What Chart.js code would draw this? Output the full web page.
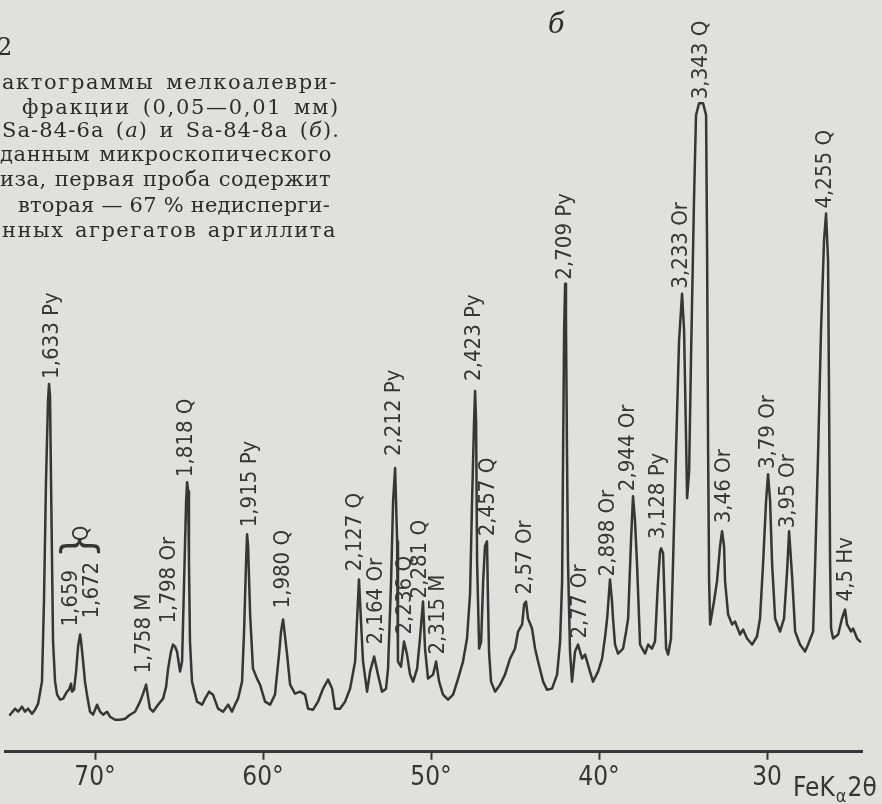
<!DOCTYPE html>
<html lang="ru">
<head>
<meta charset="utf-8">
<title>Дифрактограммы мелкоалевритовой фракции</title>
<script src="https://cdn.jsdelivr.net/npm/chart.js@4.4.1/dist/chart.umd.min.js"></script>
<style>
  html, body { margin: 0; padding: 0; background: #e0e0dd; }
  #wrap { position: relative; width: 882px; height: 804px; overflow: hidden; }
  #box { position: absolute; left: 0; top: 0; width: 882px; height: 804px; }
  .cap {
    position: absolute; height: 24px; line-height: 24px;
    font-family: "DejaVu Serif", "Liberation Serif", serif; font-size: 21px;
    color: #2c2c2c; white-space: nowrap;
    text-align: justify; text-align-last: justify;
  }
  .tag { position: absolute; font-family: "DejaVu Serif", serif; font-style: italic; font-size: 27px; color: #2c2c2c; }
</style>
</head>
<body>
<div id="wrap">
  <div id="box"><canvas id="chart"></canvas></div>

  <div class="cap" style="left:-3px; top:35px; width:16px; font-size:24px;">2</div>
  <div class="cap" style="left:2px; top:70px; width:336px; letter-spacing:1.6px;">актограммы мелкоалеври-</div>
  <div class="cap" style="left:22px; top:95px; width:318px; letter-spacing:1.7px;">фракции (0,05—0,01 мм)</div>
  <div class="cap" style="left:2px; top:118px; width:338px; letter-spacing:1.1px;">Sa-84-6а (<i>а</i>) и Sa-84-8а (<i>б</i>).</div>
  <div class="cap" style="left:0px; top:142px; width:332px; letter-spacing:0.6px;">данным микроскопического</div>
  <div class="cap" style="left:0px; top:167px; width:331px; letter-spacing:0.5px;">иза, первая проба содержит</div>
  <div class="cap" style="left:18px; top:193px; width:312px; letter-spacing:0.2px;">вторая — 67 % недисперги-</div>
  <div class="cap" style="left:2px; top:218px; width:335px; letter-spacing:1.5px;">нных агрегатов аргиллита</div>

  <div class="tag" style="left:548px; top:8px;">б</div>
</div>

<script>
'use strict';

// diffraction angle 2θ (degrees, FeKα) and recorded intensity (relative)
let twoTheta = [
  75.06, 74.76, 74.58, 74.35, 74.17, 73.99, 73.75, 73.57, 73.39, 73.16,
  73.04, 72.92, 72.80, 72.74, 72.68, 72.62, 72.56, 72.50, 72.38, 72.26,
  72.08, 71.90, 71.67, 71.55, 71.43, 71.37, 71.25, 71.13, 71.01, 70.89,
  70.83, 70.71, 70.60, 70.48, 70.30, 70.12, 69.88, 69.70, 69.52, 69.29,
  69.11, 68.81, 68.51, 68.21, 67.92, 67.62, 67.32, 67.14, 66.96, 66.85,
  66.73, 66.55, 66.25, 65.95, 65.77, 65.65, 65.48, 65.36, 65.24, 65.12,
  64.94, 64.82, 64.70, 64.58, 64.52, 64.46, 64.41, 64.35, 64.23, 63.93,
  63.63, 63.45, 63.21, 62.98, 62.68, 62.38, 62.08, 61.85, 61.67, 61.49,
  61.25, 61.13, 61.01, 60.95, 60.89, 60.77, 60.60, 60.36, 60.18, 59.88,
  59.58, 59.29, 59.05, 58.93, 58.81, 58.69, 58.57, 58.39, 58.10, 57.80,
  57.50, 57.32, 57.02, 56.73, 56.43, 56.13, 55.89, 55.72, 55.42, 55.12,
  54.82, 54.52, 54.41, 54.29, 54.17, 54.05, 53.81, 53.63, 53.39, 53.16,
  52.92, 52.68, 52.56, 52.38, 52.26, 52.14, 52.02, 51.97, 51.79, 51.61,
  51.43, 51.25, 51.07, 50.83, 50.66, 50.48, 50.36, 50.18, 49.88, 49.70,
  49.52, 49.29, 48.99, 48.69, 48.39, 48.10, 47.86, 47.68, 47.56, 47.44,
  47.38, 47.32, 47.26, 47.14, 47.02, 46.90, 46.79, 46.67, 46.61, 46.55,
  46.43, 46.19, 45.89, 45.60, 45.30, 45.00, 44.82, 44.58, 44.46, 44.35,
  44.23, 43.99, 43.81, 43.63, 43.33, 43.10, 42.80, 42.50, 42.32, 42.20,
  42.14, 42.08, 42.02, 41.97, 41.91, 41.85, 41.73, 41.61, 41.43, 41.25,
  41.01, 40.83, 40.54, 40.36, 40.06, 39.82, 39.64, 39.52, 39.35, 39.23,
  39.17, 39.05, 38.87, 38.57, 38.39, 38.27, 38.10, 37.98, 37.86, 37.74,
  37.56, 37.26, 37.08, 36.85, 36.67, 36.49, 36.37, 36.31, 36.19, 36.01,
  35.89, 35.72, 35.60, 35.42, 35.24, 35.06, 34.94, 34.82, 34.76, 34.64,
  34.52, 34.35, 34.23, 34.05, 33.81, 33.63, 33.57, 33.51, 33.45, 33.39,
  33.16, 32.98, 32.80, 32.68, 32.56, 32.50, 32.32, 32.08, 31.91, 31.61,
  31.43, 31.19, 30.89, 30.60, 30.42, 30.24, 30.06, 29.94, 29.82, 29.70,
  29.52, 29.23, 28.99, 28.81, 28.69, 28.51, 28.33, 28.04, 27.74, 27.56,
  27.26, 27.14, 26.96, 26.79, 26.61, 26.49, 26.37, 26.31, 26.25, 26.19,
  26.07, 25.77, 25.54, 25.36, 25.24, 25.00, 24.88, 24.64, 24.46
];
let intensity = [
  37, 43, 40, 45, 40, 43, 38, 42, 48, 70,
  150, 270, 350, 367, 355, 270, 190, 110, 70, 57,
  52, 53, 60, 62, 68, 60, 62, 80, 105, 117,
  110, 90, 70, 57, 40, 37, 47, 40, 37, 40,
  35, 32, 32, 33, 37, 40, 50, 58, 67, 55,
  43, 40, 47, 53, 65, 83, 100, 107, 105, 100,
  80, 90, 170, 250, 269, 260, 190, 110, 70, 50,
  47, 53, 60, 57, 43, 40, 47, 40, 47, 53,
  70, 120, 190, 217, 205, 137, 83, 73, 67, 50,
  47, 57, 97, 120, 132, 115, 97, 67, 58, 60,
  57, 43, 42, 50, 63, 72, 63, 43, 43, 50,
  63, 90, 130, 172, 130, 90, 60, 80, 95, 77,
  60, 63, 83, 170, 250, 283, 210, 90, 85, 110,
  97, 77, 70, 83, 113, 150, 103, 73, 77, 90,
  70, 57, 52, 57, 73, 90, 113, 157, 250, 330,
  360, 330, 190, 103, 110, 170, 205, 210, 150, 100,
  70, 60, 67, 77, 93, 103, 120, 127, 147, 150,
  133, 123, 103, 90, 70, 62, 63, 77, 110, 170,
  300, 420, 467, 430, 300, 190, 100, 70, 100, 107,
  93, 97, 80, 70, 80, 93, 115, 133, 172, 150,
  133, 107, 98, 103, 120, 133, 210, 255, 230, 187,
  107, 98, 107, 103, 110, 170, 200, 203, 198, 103,
  97, 113, 187, 300, 410, 457, 420, 310, 253, 280,
  400, 550, 635, 647, 647, 635, 500, 300, 170, 127,
  150, 170, 205, 220, 205, 170, 137, 127, 130, 117,
  122, 113, 107, 115, 133, 187, 250, 277, 250, 187,
  133, 120, 133, 180, 220, 175, 120, 107, 100, 107,
  120, 187, 300, 420, 510, 537, 490, 350, 190, 123,
  113, 117, 133, 142, 127, 120, 123, 113, 110
];

// peak annotations: d-spacing (Å) and mineral, where each label stands (2θ, intensity at its foot)
let peakLabels = ['1,633 Py', '1,659', '1,672', '}', 'Q', '1,758 M', '1,798 Or', '1,818 Q',
  '1,915 Py', '1,980 Q', '2,127 Q', '2,164 Or', '2,212 Py', '2,236 Q', '2,281 Q', '2,315 M',
  '2,423 Py', '2,457 Q', '2,57 Or', '2,709 Py', '2,77 Or', '2,898 Or', '2,944 Or', '3,128 Py',
  '3,233 Or', '3,343 Q', '3,46 Or', '3,79 Or', '3,95 Or', '4,255 Q', '4,5 Hv'];
let peakLabelTheta = [72.56, 71.43, 70.18, 70.83, 70.77, 67.08, 65.60, 64.58,
  60.77, 58.81, 54.52, 53.27, 52.20, 51.55, 50.66, 49.58,
  47.44, 46.61, 44.40, 42.02, 41.13, 39.46, 38.27, 36.49,
  35.12, 33.93, 32.56, 29.94, 28.75, 26.55, 25.30];
let peakLabelBase = [372, 125, 133, 193, 210, 78, 128, 274,
  224, 143, 180, 107, 295, 117, 153, 97,
  370, 215, 157, 471, 113, 175, 260, 212,
  462, 651, 228, 282, 223, 542, 150];

let tickValues = [70, 60, 50, 40, 30];

let ink = '#363636';
let labelFont = '"Liberation Sans Narrow", "DejaVu Sans Condensed", sans-serif';

// rotated peak labels, placed through the chart scales
let peakLabelPlugin = {
  id: 'peakLabels',
  afterDatasetsDraw(chart) {
    let ctx = chart.ctx;
    let xs = chart.scales.x;
    let ys = chart.scales.y;
    ctx.save();
    ctx.fillStyle = ink;
    ctx.textAlign = 'left';
    ctx.textBaseline = 'middle';
    for (let i = 0; i < peakLabels.length; i++) {
      let px = xs.getPixelForValue(peakLabelTheta[i]);
      let py = ys.getPixelForValue(peakLabelBase[i]);
      ctx.save();
      ctx.translate(px, py);
      ctx.rotate(-Math.PI / 2);
      ctx.font = (peakLabels[i] === '}' ? '300 44px ' : '22px ') + labelFont;
      ctx.fillText(peakLabels[i], 0, 0);
      ctx.restore();
    }
    ctx.restore();
  }
};

// axis caption "Fe Kα 2θ" after the last tick
let axisNamePlugin = {
  id: 'axisName',
  afterDraw(chart) {
    let ctx = chart.ctx;
    let x = chart.scales.x.getPixelForValue(30) + 26;
    let y = chart.chartArea.bottom + 44;
    ctx.save();
    ctx.fillStyle = ink;
    ctx.textBaseline = 'alphabetic';
    ctx.textAlign = 'left';
    ctx.font = '26px ' + labelFont;
    ctx.fillText('FeK', x, y);
    x += ctx.measureText('FeK').width + 1;
    ctx.font = '18px ' + labelFont;
    ctx.fillText('α', x, y + 6);
    x += ctx.measureText('α').width + 1;
    ctx.font = '26px ' + labelFont;
    ctx.fillText('2θ', x, y);
    ctx.restore();
  }
};

function renderChart() {
  let canvasElem = document.getElementById('chart');

  let points = [];
  for (let i = 0; i < twoTheta.length; i++) {
    points.push({ x: twoTheta[i], y: intensity[i] });
  }

  let data = {
    datasets: [
      {
        label: 'Sa-84-8а',
        data: points,
        borderColor: ink,
        borderWidth: 2.5,
        borderJoinStyle: 'round',
        borderCapStyle: 'round',
        pointRadius: 0,
        tension: 0,
        fill: false,
        clip: false
      }
    ]
  };

  let config = {
    type: 'line',
    data: data,
    options: {
      responsive: true,
      maintainAspectRatio: false,
      animation: false,
      devicePixelRatio: 1,
      events: [],
      layout: { padding: { left: 5, right: 20, top: 0, bottom: 7 } },
      plugins: {
        legend: { display: false },
        tooltip: { enabled: false }
      },
      scales: {
        x: {
          type: 'linear',
          reverse: true,
          min: 24.35,
          max: 75.36,
          afterBuildTicks: (axis) => {
            axis.ticks = tickValues.map(v => ({ value: v }));
          },
          ticks: {
            autoSkip: false,
            maxRotation: 0,
            padding: 3,
            color: ink,
            font: { family: labelFont, size: 26 },
            callback: (v) => (v === 30 ? '30' : v + '°')
          },
          grid: {
            drawOnChartArea: false,
            drawTicks: true,
            tickLength: 8,
            tickWidth: 2,
            color: ink
          },
          border: { display: true, color: ink, width: 3 }
        },
        y: {
          display: false,
          min: 0,
          max: 750
        }
      }
    },
    plugins: [peakLabelPlugin, axisNamePlugin]
  };

  new Chart(canvasElem, config);
}

renderChart();
</script>
</body>
</html>
